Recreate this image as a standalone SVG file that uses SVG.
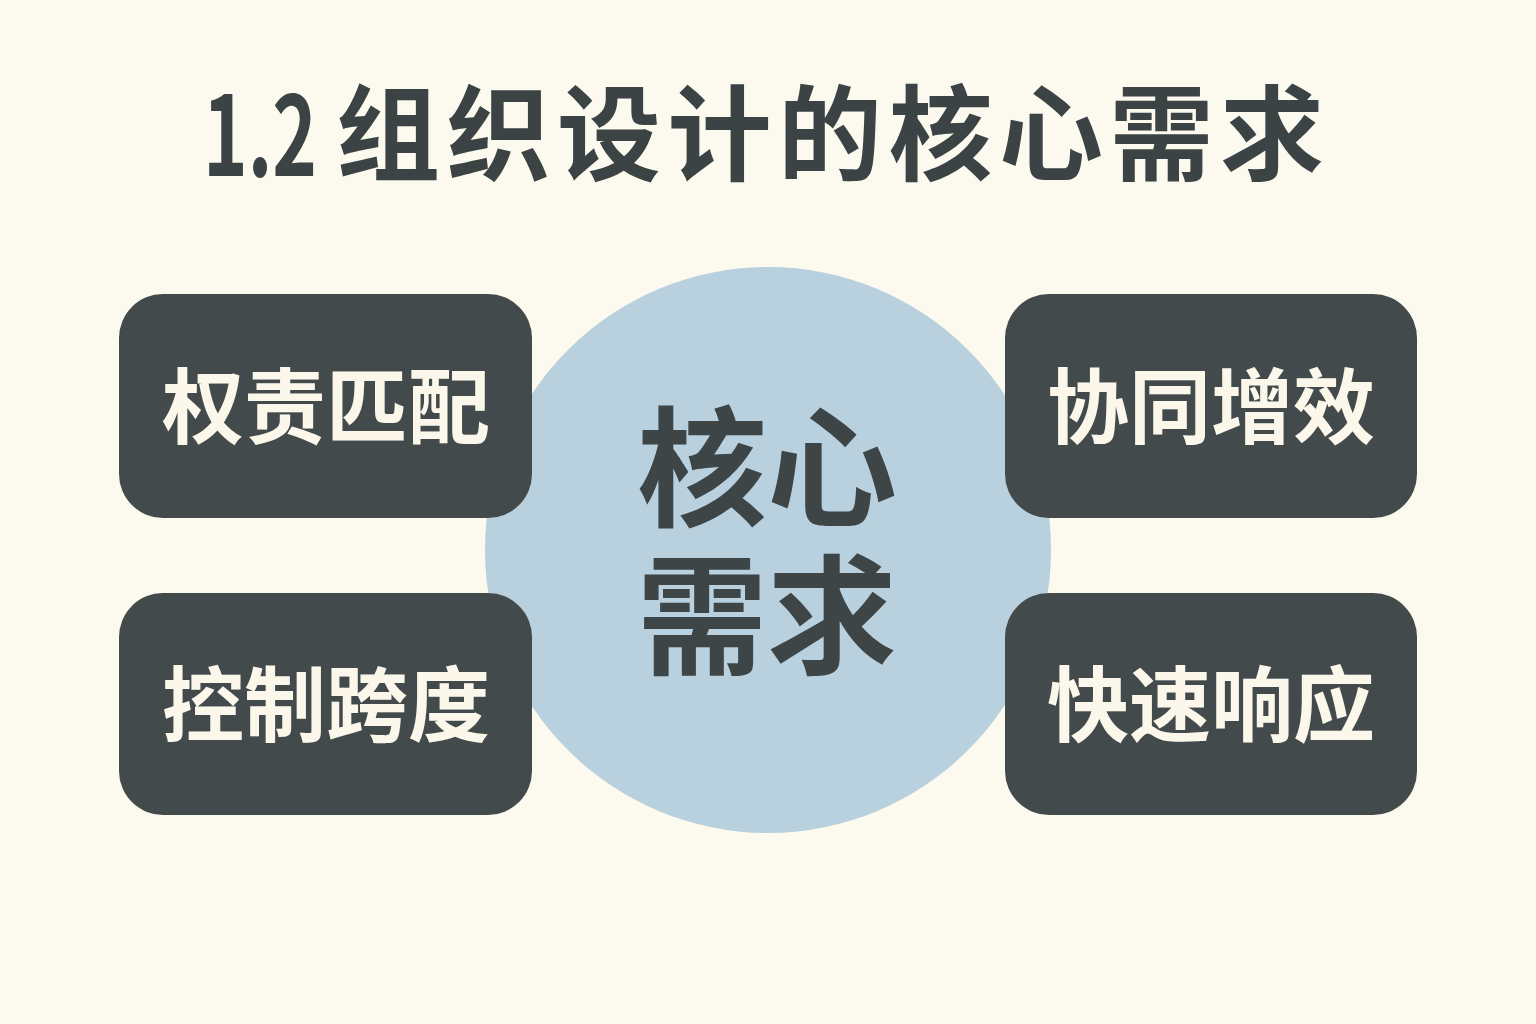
<svg xmlns="http://www.w3.org/2000/svg" width="1536" height="1024" viewBox="0 0 1536 1024">
<style>
.title{font-family:"Noto Sans CJK SC","Noto Sans",sans-serif;font-weight:700;font-size:104px;fill:#3b4345;letter-spacing:6.5px}
.num{font-size:110px;letter-spacing:0}
.box{fill:#434a4c}
.lbl{font-family:"Noto Sans CJK SC",sans-serif;font-weight:700;font-size:82px;fill:#fbf7ea;text-anchor:middle}
.core{font-family:"Noto Sans CJK SC",sans-serif;font-weight:700;font-size:130px;fill:#3d4547;text-anchor:middle}
</style>
<rect width="1536" height="1024" fill="#fcf9ee"/>
<text class="title"><tspan class="num" x="203" y="176" textLength="114" lengthAdjust="spacingAndGlyphs">1.2</tspan><tspan x="336" y="173">组织设计的核心需求</tspan></text>
<g id="connectors"></g>
<g id="core">
<circle cx="768" cy="550" r="283" fill="#b9d0de"/>
</g>
<g id="n1"><rect class="box" x="119" y="294" width="413" height="224" rx="44"/><text class="lbl" x="326" y="437">权责匹配</text></g>
<g id="n2"><rect class="box" x="1005" y="294" width="412" height="224" rx="44"/><text class="lbl" x="1211" y="437">协同增效</text></g>
<g id="n3"><rect class="box" x="119" y="593" width="413" height="222" rx="44"/><text class="lbl" x="326" y="735">控制跨度</text></g>
<g id="n4"><rect class="box" x="1005" y="593" width="412" height="222" rx="44"/><text class="lbl" x="1211" y="735">快速响应</text></g>
<g id="core-text">
<text class="core" x="767" y="516">核心</text>
<text class="core" x="767" y="664">需求</text>
</g>
</svg>
